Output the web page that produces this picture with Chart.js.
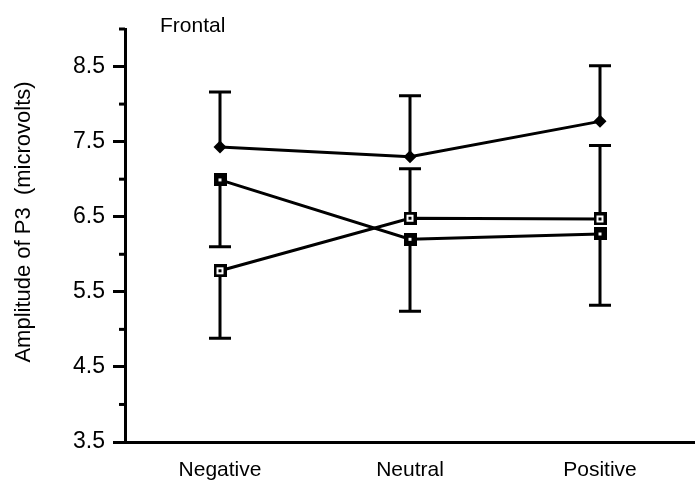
<!DOCTYPE html>
<html>
<head>
<meta charset="utf-8">
<script src="https://cdn.jsdelivr.net/npm/chart.js@4.4.0/dist/chart.umd.min.js"></script>
<style>
html,body{margin:0;padding:0;background:#fff;}
#c{display:block;}
</style>
</head>
<body>
<canvas id="c" width="695" height="484"></canvas>
<script>
const categories = ['Negative', 'Neutral', 'Positive'];
// Series A: filled diamonds
const seriesA = [7.43, 7.30, 7.77];
const errHighA = [8.16, 8.11, 8.51];
const errLowA = [null, null, null];
// Series B: dark squares (7.0 -> 6.2 -> 6.27)
const seriesB = [6.99, 6.20, 6.27];
const errHighB = [null, null, null];
const errLowB = [6.10, 5.24, 5.32];
// Series C: open squares (5.78 -> 6.48 -> 6.47)
const seriesC = [5.78, 6.48, 6.47];
const errHighC = [null, 7.14, 7.45];
const errLowC = [4.88, null, null];
const yMajorTicks = [3.5, 4.5, 5.5, 6.5, 7.5, 8.5];
const yMinorTicks = [4, 5, 6, 7, 8, 9];
const panelTitle = 'Frontal';
const yTitle = 'Amplitude of P3  (microvolts)';

const FONT = "'Liberation Sans', Arial, Helvetica, sans-serif";

function squareMarker(dark) {
  const s = 13;
  const cv = document.createElement('canvas');
  cv.width = s; cv.height = s;
  const g = cv.getContext('2d');
  g.fillStyle = '#000';
  g.fillRect(0, 0, s, s);
  if (dark) {
    g.fillStyle = '#fff';
    g.fillRect(5, 5, 3, 3);
  } else {
    g.fillStyle = '#fff';
    g.fillRect(3, 3, 7, 7);
    g.fillStyle = '#000';
    g.fillRect(5, 5, 3, 3);
  }
  return cv;
}

const errorBars = {
  id: 'errorBars',
  beforeDatasetsDraw(chart) {
    const ctx = chart.ctx;
    const xs = chart.scales.x, ys = chart.scales.y;
    const sets = [
      [seriesA, errHighA, errLowA],
      [seriesB, errHighB, errLowB],
      [seriesC, errHighC, errLowC]
    ];
    ctx.save();
    ctx.strokeStyle = '#000';
    ctx.lineWidth = 3;
    ctx.lineCap = 'butt';
    sets.forEach(([vals, hi, lo]) => {
      vals.forEach((v, i) => {
        const x = xs.getPixelForValue(i);
        const y0 = ys.getPixelForValue(v);
        [hi[i], lo[i]].forEach(e => {
          if (e === null || e === undefined) return;
          const y1 = ys.getPixelForValue(e);
          ctx.beginPath();
          ctx.moveTo(x, y0);
          ctx.lineTo(x, y1);
          ctx.moveTo(x - 11, y1);
          ctx.lineTo(x + 11, y1);
          ctx.stroke();
        });
      });
    });
    ctx.restore();
  }
};

const decorations = {
  id: 'decorations',
  afterDraw(chart) {
    const ctx = chart.ctx;
    const ys = chart.scales.y;
    const left = chart.chartArea.left;
    ctx.save();
    ctx.strokeStyle = '#000';
    ctx.lineWidth = 3;
    yMinorTicks.forEach(v => {
      const y = ys.getPixelForValue(v);
      ctx.beginPath();
      ctx.moveTo(left - 6, y);
      ctx.lineTo(left, y);
      ctx.stroke();
    });
    ctx.fillStyle = '#000';
    ctx.font = '21px ' + FONT;
    ctx.textAlign = 'left';
    ctx.textBaseline = 'alphabetic';
    ctx.fillText(panelTitle, left + 35, 32);
    ctx.translate(24, 222);
    ctx.rotate(-Math.PI / 2);
    ctx.font = '22px ' + FONT;
    ctx.textAlign = 'center';
    ctx.textBaseline = 'middle';
    ctx.fillText(yTitle, 0, 0);
    ctx.restore();
  }
};

const bg = {
  id: 'bg',
  beforeDraw(chart) {
    const ctx = chart.ctx;
    ctx.save();
    ctx.fillStyle = '#fff';
    ctx.fillRect(0, 0, chart.width, chart.height);
    ctx.restore();
  }
};

const lineDs = (data, style, radius) => ({
  data: data,
  borderColor: '#000',
  borderWidth: 3,
  backgroundColor: '#000',
  pointStyle: style,
  pointRadius: radius,
  pointHoverRadius: radius,
  pointBorderWidth: 0,
  pointBackgroundColor: '#000',
  tension: 0,
  fill: false
});

new Chart(document.getElementById('c'), {
  type: 'line',
  data: {
    labels: categories,
    datasets: [
      lineDs(seriesB, squareMarker(true), 6.5),
      lineDs(seriesC, squareMarker(false), 6.5),
      lineDs(seriesA, 'rectRot', 6.5)
    ]
  },
  options: {
    responsive: false,
    animation: false,
    devicePixelRatio: 1,
    layout: { autoPadding: false, padding: { top: 29, right: 0, left: 0, bottom: 0 } },
    plugins: { legend: { display: false }, tooltip: { enabled: false } },
    scales: {
      x: {
        type: 'category',
        offset: true,
        grid: { display: false, drawTicks: false },
        border: { display: true, color: '#000', width: 3 },
        ticks: { color: '#000', font: { family: FONT, size: 21 }, padding: 16, maxRotation: 0 },
        afterFit(s) { s.height = 42; s.paddingLeft = 0; s.paddingRight = 0; }
      },
      y: {
        type: 'linear',
        min: 3.5,
        max: 9.0,
        afterBuildTicks(s) {
          s.ticks = yMajorTicks.map(v => ({ value: v }));
        },
        grid: {
          display: true,
          drawOnChartArea: false,
          drawTicks: true,
          tickLength: 12,
          tickWidth: 3,
          tickColor: '#000'
        },
        border: { display: true, color: '#000', width: 3 },
        ticks: {
          color: '#000',
          font: { family: FONT, size: 23 },
          padding: 8,
          callback: v => Number(v).toFixed(1)
        },
        afterFit(s) { s.width = 125; }
      }
    }
  },
  plugins: [bg, errorBars, decorations]
});
</script>
</body>
</html>
